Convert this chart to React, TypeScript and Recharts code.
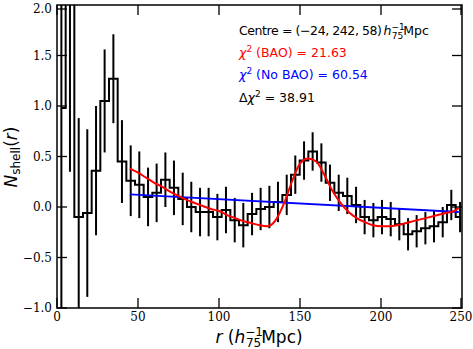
import React from 'react';
import { ComposedChart, Line, XAxis, YAxis, ErrorBar, ReferenceArea } from 'recharts';

// shell histogram
const binCentres = [
  2.7, 8.0, 13.4, 18.7, 24.1, 29.4, 34.8, 40.1, 45.5, 50.8, 56.2, 61.5,
  66.9, 72.2, 77.6, 82.9, 88.3, 93.6, 99.0, 104.3, 109.7, 115.0, 120.4, 125.7,
  131.1, 136.4, 141.8, 147.1, 152.5, 157.8, 163.2, 168.5, 173.9, 179.2, 184.6, 189.9,
  195.3, 200.6, 206.0, 211.3, 216.7, 222.0, 227.4, 232.7, 238.1, 243.4, 248.8,
];
const shellCounts = [
  0.98, 2.6, -0.1, -0.06, 0.36, 1.05, 1.27, 0.45, 0.26, 0.22, 0.1, 0.14,
  0.27, 0.19, 0.08, 0.0, -0.05, -0.05, -0.1, -0.03, -0.13, -0.18, -0.07, -0.02,
  0.0, 0.05, 0.12, 0.32, 0.46, 0.55, 0.44, 0.24, 0.14, 0.11, 0.02, -0.1,
  -0.13, -0.1, -0.12, -0.17, -0.27, -0.24, -0.21, -0.19, -0.15, 0.02, -0.1,
];
const shellErrors = [
  3.5, 2.25, 0.98, 0.83, 0.64, 0.51, 0.44, 0.41, 0.35, 0.33, 0.29, 0.29,
  0.27, 0.27, 0.26, 0.25, 0.24, 0.24, 0.23, 0.23, 0.22, 0.22, 0.21, 0.21,
  0.21, 0.2, 0.2, 0.19, 0.19, 0.19, 0.19, 0.18, 0.18, 0.18, 0.18, 0.17,
  0.17, 0.17, 0.17, 0.16, 0.16, 0.16, 0.16, 0.16, 0.15, 0.15, 0.15,
];

// BAO model (red)
const baoR = [
  45, 50, 55, 60, 65, 70, 75, 80, 85, 90, 95, 100, 105, 110, 115, 120, 125, 130, 135, 140, 145,
  150, 155, 160, 165, 170, 175, 180, 185, 190, 195, 200, 205, 210, 215, 220, 225, 230, 235, 240, 245, 248,
];
const baoModel = [
  0.38, 0.34, 0.29, 0.24, 0.2, 0.15, 0.11, 0.07, 0.04, 0.01, -0.02, -0.04, -0.08, -0.11, -0.14, -0.16, -0.18, -0.19, -0.13, 0.03, 0.25,
  0.43, 0.48, 0.45, 0.32, 0.16, 0.04, -0.05, -0.11, -0.15, -0.18, -0.19, -0.19, -0.18, -0.16, -0.14, -0.12, -0.1, -0.08, -0.06, -0.04, -0.01,
];

// no-BAO model (blue)
const noBaoR = [45, 248];
const noBaoModel = [0.125, -0.05];

const xTicks = [0, 50, 100, 150, 200, 250];
const yTicks = [-1, -0.5, 0, 0.5, 1, 1.5, 2];

const W = 473;
const H = 349;
const PLOT_LEFT = 57;
const PLOT_RIGHT = 462;
const PLOT_TOP = 5;
const PLOT_BOTTOM = 308;
const TICK_LEN = 10;

const histData = binCentres.map((r, i) => ({ r, n: shellCounts[i], err: shellErrors[i] }));
const baoData = baoR.map((r, i) => ({ r, v: baoModel[i] }));
const noBaoData = noBaoR.map((r, i) => ({ r, v: noBaoModel[i] }));

const YTick = (props: any) => {
  const { y, payload } = props;
  const label = Number(payload.value).toFixed(1).replace('-', '\u2212');
  return (
    <g>
      <line x1={PLOT_LEFT} x2={PLOT_LEFT + TICK_LEN} y1={y} y2={y} stroke="#000" strokeWidth={1.3} />
      <line x1={PLOT_RIGHT} x2={PLOT_RIGHT - TICK_LEN} y1={y} y2={y} stroke="#000" strokeWidth={1.3} />
      <text x={PLOT_LEFT - 5} y={y} dy="0.36em" textAnchor="end" fontFamily="DejaVu Serif" fontSize={12} fill="#000">
        {label}
      </text>
    </g>
  );
};

const XTick = (props: any) => {
  const { x, payload } = props;
  return (
    <g>
      <line x1={x} x2={x} y1={PLOT_BOTTOM} y2={PLOT_BOTTOM - TICK_LEN} stroke="#000" strokeWidth={1.3} />
      <line x1={x} x2={x} y1={PLOT_TOP} y2={PLOT_TOP + TICK_LEN} stroke="#000" strokeWidth={1.3} />
      <text x={x} y={PLOT_BOTTOM + 4} dy="0.71em" textAnchor="middle" fontFamily="DejaVu Serif" fontSize={12} fill="#000">
        {payload.value}
      </text>
    </g>
  );
};

// error bars of the first bins run far past the axes; clip them to the plot box
const clipCss = `
.recharts-errorBars, .recharts-errorBar { clip-path: url(#plotBoxClip); }
`;

const Annotations = () => (
  <svg width={W} height={H} style={{ position: 'absolute', left: 0, top: 0, pointerEvents: 'none' }}>
    <defs>
      <clipPath id="plotBoxClip" clipPathUnits="userSpaceOnUse">
        <rect x={PLOT_LEFT} y={PLOT_TOP} width={PLOT_RIGHT - PLOT_LEFT} height={PLOT_BOTTOM - PLOT_TOP} />
      </clipPath>
    </defs>
    <g fontFamily="DejaVu Sans" fontSize={12.5}>
      <text x={239} y={35} fill="#000">
        <tspan textLength={143} lengthAdjust="spacing">Centre = (−24, 242, 58)</tspan>
        <tspan fontStyle="italic" dx={2}>h</tspan>
        <tspan fontSize={9} dy={-5}>−1</tspan>
        <tspan fontSize={9} dx={-13} dy={9}>75</tspan>
        <tspan dy={-4}>Mpc</tspan>
      </text>
      <text x={239} y={57} fill="#ff0000">
        <tspan fontStyle="italic">χ</tspan>
        <tspan fontSize={9} dy={-5}>2</tspan>
        <tspan dy={5}> (BAO) = 21.63</tspan>
      </text>
      <text x={239} y={79} fill="#0000ff">
        <tspan fontStyle="italic">χ</tspan>
        <tspan fontSize={9} dy={-5}>2</tspan>
        <tspan dy={5}> (No BAO) = 60.54</tspan>
      </text>
      <text x={239} y={102} fill="#000">
        Δ<tspan fontStyle="italic">χ</tspan>
        <tspan fontSize={9} dy={-5}>2</tspan>
        <tspan dy={5}> = 38.91</tspan>
      </text>
    </g>
    {/* axis titles */}
    <text x={259} y={343} textAnchor="middle" fontFamily="DejaVu Sans" fontSize={17} fill="#000">
      <tspan fontStyle="italic">r</tspan>
      <tspan> (</tspan>
      <tspan fontStyle="italic">h</tspan>
      <tspan fontSize={12} dy={-7}>−1</tspan>
      <tspan fontSize={12} dx={-17} dy={11}>75</tspan>
      <tspan dy={-4}>Mpc)</tspan>
    </text>
    <text
      x={17}
      y={157}
      textAnchor="middle"
      transform="rotate(-90, 17, 157)"
      fontFamily="DejaVu Sans"
      fontSize={17}
      fill="#000"
    >
      <tspan fontStyle="italic">N</tspan>
      <tspan fontSize={12} dy={3}>shell</tspan>
      <tspan dy={-3}>(</tspan>
      <tspan fontStyle="italic">r</tspan>
      <tspan>)</tspan>
    </text>
  </svg>
);

export default function App() {
  return (
    <div style={{ position: 'absolute', left: 0, top: 0, width: W, height: H, background: '#fff' }}>
      <style>{clipCss}</style>
      <ComposedChart width={W} height={H} margin={{ top: PLOT_TOP, right: W - PLOT_RIGHT, bottom: 0, left: 0 }}>
        <XAxis
          dataKey="r"
          type="number"
          domain={[0, 250]}
          ticks={xTicks}
          allowDataOverflow
          height={H - PLOT_BOTTOM}
          axisLine={false}
          tickLine={false}
          tick={<XTick />}
        />
        <YAxis
          type="number"
          domain={[-1, 2]}
          ticks={yTicks}
          allowDataOverflow
          width={PLOT_LEFT}
          axisLine={false}
          tickLine={false}
          tick={<YTick />}
        />
        <Line
          data={histData}
          dataKey="n"
          type="step"
          stroke="#000"
          strokeWidth={2}
          dot={false}
          isAnimationActive={false}
        >
          <ErrorBar dataKey="err" width={0} stroke="#000" strokeWidth={2} direction="y" />
        </Line>
        <Line
          data={noBaoData}
          dataKey="v"
          type="linear"
          stroke="#0000ff"
          strokeWidth={2}
          dot={false}
          isAnimationActive={false}
        />
        <Line
          data={baoData}
          dataKey="v"
          type="monotone"
          stroke="#ff0000"
          strokeWidth={2}
          dot={false}
          isAnimationActive={false}
        />
        <ReferenceArea x1={0} x2={250} y1={-1} y2={2} fill="none" stroke="#000" strokeWidth={1.5} />
      </ComposedChart>
      <Annotations />
    </div>
  );
}
